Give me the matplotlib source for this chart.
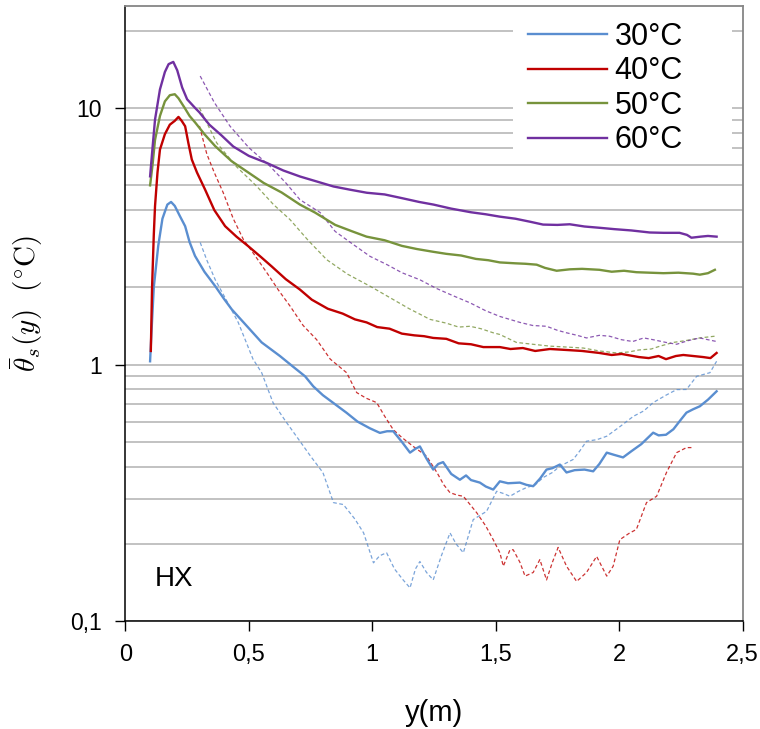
import numpy as np
import matplotlib
matplotlib.use("Agg")
import matplotlib.pyplot as plt
from matplotlib.ticker import FixedLocator, FuncFormatter, NullFormatter
from matplotlib.patches import Rectangle

plt.rcParams['font.family'] = ['Liberation Sans', 'DejaVu Sans']
plt.rcParams['mathtext.fontset'] = 'cm'

# solid curves (x in m, value in degC)
x30 = [0.100, 0.105, 0.115, 0.133, 0.150, 0.170, 0.185, 0.200, 0.220, 0.242, 0.260, 0.282, 0.320, 0.364,
       0.400, 0.431, 0.490, 0.552, 0.626, 0.680, 0.728, 0.761, 0.800, 0.850, 0.896, 0.940, 0.990, 1.031,
       1.060, 1.085, 1.120, 1.153, 1.175, 1.193, 1.220, 1.247, 1.267, 1.287, 1.320, 1.355, 1.380, 1.400,
       1.436, 1.460, 1.490, 1.517, 1.550, 1.598, 1.625, 1.652, 1.680, 1.706, 1.730, 1.760, 1.787, 1.820,
       1.860, 1.895, 1.920, 1.950, 1.980, 2.016, 2.050, 2.090, 2.138, 2.160, 2.190, 2.220, 2.250, 2.273,
       2.300, 2.327, 2.360, 2.395]
v30 = [1.03, 1.3, 2.0, 2.9, 3.7, 4.2, 4.3, 4.15, 3.8, 3.46, 3.0, 2.65, 2.3, 2.02,
       1.8, 1.64, 1.42, 1.22, 1.08, 0.98, 0.90, 0.823, 0.76, 0.70, 0.649, 0.60, 0.565, 0.542,
       0.55, 0.55, 0.50, 0.454, 0.47, 0.48, 0.43, 0.39, 0.41, 0.417, 0.375, 0.356, 0.37, 0.355,
       0.347, 0.335, 0.326, 0.351, 0.345, 0.347, 0.34, 0.336, 0.36, 0.39, 0.395, 0.408, 0.38, 0.388,
       0.39, 0.384, 0.41, 0.454, 0.445, 0.435, 0.46, 0.49, 0.543, 0.53, 0.533, 0.56, 0.61, 0.65,
       0.67, 0.688, 0.73, 0.787]

x40 = [0.103, 0.108, 0.115, 0.120, 0.130, 0.140, 0.160, 0.180, 0.200, 0.215, 0.228, 0.242, 0.255, 0.269,
       0.290, 0.323, 0.360, 0.404, 0.450, 0.498, 0.550, 0.593, 0.650, 0.707, 0.755, 0.820, 0.880, 0.930,
       0.977, 1.020, 1.070, 1.120, 1.170, 1.210, 1.247, 1.300, 1.350, 1.400, 1.450, 1.517, 1.560, 1.610,
       1.660, 1.720, 1.787, 1.850, 1.920, 1.970, 2.010, 2.080, 2.120, 2.160, 2.190, 2.230, 2.260, 2.300,
       2.340, 2.370, 2.395]
v40 = [1.13, 2.0, 3.2, 4.14, 5.6, 6.88, 7.9, 8.6, 8.9, 9.22, 8.9, 8.48, 7.3, 6.29,
       5.6, 4.8, 4.0, 3.46, 3.15, 2.89, 2.62, 2.41, 2.15, 1.96, 1.79, 1.65, 1.58, 1.50,
       1.46, 1.40, 1.38, 1.32, 1.30, 1.29, 1.27, 1.26, 1.21, 1.20, 1.17, 1.17, 1.15, 1.16,
       1.13, 1.15, 1.14, 1.13, 1.11, 1.09, 1.10, 1.07, 1.06, 1.08, 1.05, 1.08, 1.09, 1.08,
       1.07, 1.06, 1.11]

x50 = [0.100, 0.110, 0.120, 0.140, 0.160, 0.180, 0.200, 0.215, 0.240, 0.260, 0.283, 0.320, 0.364, 0.430,
       0.498, 0.560, 0.633, 0.707, 0.768, 0.850, 0.920, 0.977, 1.050, 1.120, 1.180, 1.247, 1.300, 1.360,
       1.420, 1.470, 1.517, 1.580, 1.620, 1.666, 1.700, 1.747, 1.800, 1.850, 1.920, 1.970, 2.020, 2.070,
       2.124, 2.180, 2.240, 2.300, 2.327, 2.360, 2.388]
v50 = [4.99, 6.0, 7.5, 9.3, 10.6, 11.2, 11.3, 10.9, 10.0, 9.3, 8.76, 7.9, 7.09, 6.2,
       5.6, 5.1, 4.68, 4.2, 3.91, 3.5, 3.3, 3.15, 3.05, 2.9, 2.82, 2.75, 2.70, 2.66,
       2.58, 2.55, 2.5, 2.48, 2.47, 2.45, 2.38, 2.32, 2.35, 2.36, 2.34, 2.30, 2.32, 2.29,
       2.28, 2.27, 2.28, 2.26, 2.24, 2.27, 2.34]

x60 = [0.100, 0.110, 0.120, 0.140, 0.160, 0.175, 0.194, 0.210, 0.230, 0.250, 0.282, 0.300, 0.340, 0.390,
       0.437, 0.500, 0.573, 0.640, 0.708, 0.780, 0.843, 0.910, 0.978, 1.050, 1.120, 1.190, 1.248, 1.320,
       1.400, 1.460, 1.516, 1.580, 1.640, 1.692, 1.750, 1.800, 1.860, 1.922, 1.980, 2.050, 2.124, 2.180,
       2.245, 2.275, 2.293, 2.330, 2.360, 2.395]
v60 = [5.41, 7.0, 9.0, 11.8, 13.8, 14.8, 15.1, 14.0, 12.0, 10.8, 10.0, 9.6, 8.6, 7.8,
       7.07, 6.5, 6.1, 5.7, 5.4, 5.15, 4.94, 4.8, 4.67, 4.6, 4.45, 4.3, 4.2, 4.05,
       3.92, 3.85, 3.77, 3.70, 3.60, 3.51, 3.50, 3.52, 3.45, 3.41, 3.37, 3.33, 3.27, 3.26,
       3.26, 3.2, 3.12, 3.15, 3.17, 3.15]

# dashed curves
xd30 = [0.303, 0.330, 0.364, 0.400, 0.457, 0.517, 0.552, 0.598, 0.650, 0.707, 0.750, 0.800, 0.843, 0.883,
        0.930, 0.965, 1.005, 1.030, 1.058, 1.090, 1.125, 1.153, 1.175, 1.193, 1.220, 1.247, 1.280, 1.315,
        1.340, 1.369, 1.409, 1.440, 1.463, 1.504, 1.530, 1.558, 1.590, 1.625, 1.660, 1.692, 1.730, 1.760,
        1.814, 1.840, 1.868, 1.910, 1.950, 2.000, 2.058, 2.100, 2.138, 2.190, 2.233, 2.273, 2.314, 2.368,
        2.395]
vd30 = [2.99, 2.55, 2.14, 1.85, 1.46, 1.05, 0.93, 0.711, 0.60, 0.503, 0.44, 0.38, 0.29, 0.285,
        0.25, 0.221, 0.169, 0.18, 0.185, 0.16, 0.145, 0.135, 0.16, 0.171, 0.155, 0.145, 0.18, 0.221,
        0.20, 0.185, 0.249, 0.26, 0.268, 0.321, 0.315, 0.307, 0.32, 0.332, 0.34, 0.363, 0.38, 0.402,
        0.427, 0.46, 0.503, 0.51, 0.526, 0.57, 0.629, 0.66, 0.711, 0.76, 0.799, 0.80, 0.90, 0.93,
        1.03]

xd40 = [0.300, 0.330, 0.360, 0.396, 0.437, 0.478, 0.520, 0.573, 0.620, 0.667, 0.720, 0.775, 0.830, 0.896,
        0.937, 0.975, 1.018, 1.050, 1.085, 1.120, 1.166, 1.220, 1.262, 1.290, 1.315, 1.345, 1.369, 1.423,
        1.460, 1.490, 1.517, 1.531, 1.558, 1.571, 1.598, 1.619, 1.652, 1.679, 1.706, 1.730, 1.753, 1.787,
        1.828, 1.868, 1.909, 1.950, 1.976, 2.003, 2.040, 2.070, 2.111, 2.152, 2.192, 2.233, 2.273, 2.293]
vd40 = [8.5, 6.6, 5.6, 4.68, 3.7, 3.07, 2.7, 2.28, 1.95, 1.69, 1.42, 1.25, 1.05, 0.93,
        0.778, 0.74, 0.711, 0.63, 0.558, 0.52, 0.48, 0.44, 0.38, 0.34, 0.317, 0.31, 0.307, 0.265,
        0.235, 0.208, 0.185, 0.164, 0.19, 0.19, 0.17, 0.150, 0.155, 0.174, 0.145, 0.17, 0.194, 0.164,
        0.143, 0.155, 0.179, 0.15, 0.164, 0.208, 0.22, 0.228, 0.29, 0.307, 0.38, 0.454, 0.475, 0.475]

xd50 = [0.300, 0.370, 0.450, 0.532, 0.600, 0.667, 0.740, 0.816, 0.900, 0.991, 1.060, 1.150, 1.234, 1.300,
        1.350, 1.396, 1.440, 1.490, 1.517, 1.584, 1.650, 1.720, 1.790, 1.855, 1.920, 1.990, 2.040, 2.080,
        2.130, 2.166, 2.220, 2.270, 2.327, 2.388]
vd50 = [10.0, 7.3, 5.9, 4.95, 4.2, 3.67, 3.05, 2.56, 2.25, 2.02, 1.85, 1.65, 1.5, 1.45,
        1.40, 1.41, 1.38, 1.33, 1.31, 1.22, 1.20, 1.18, 1.17, 1.16, 1.13, 1.11, 1.12, 1.14,
        1.15, 1.18, 1.22, 1.24, 1.27, 1.29]

xd60 = [0.303, 0.360, 0.424, 0.500, 0.586, 0.650, 0.707, 0.789, 0.850, 0.920, 0.991, 1.060, 1.120, 1.193,
        1.260, 1.330, 1.396, 1.460, 1.517, 1.598, 1.650, 1.706, 1.750, 1.787, 1.830, 1.868, 1.920, 1.961,
        2.010, 2.055, 2.100, 2.138, 2.190, 2.233, 2.280, 2.327, 2.360, 2.395]
vd60 = [13.3, 10.5, 8.48, 7.0, 5.92, 5.1, 4.39, 3.91, 3.3, 2.95, 2.64, 2.45, 2.28, 2.14,
        1.98, 1.85, 1.74, 1.62, 1.54, 1.46, 1.42, 1.41, 1.36, 1.33, 1.30, 1.27, 1.30, 1.29,
        1.25, 1.23, 1.27, 1.25, 1.22, 1.2, 1.24, 1.27, 1.25, 1.23]

labels = ['30°C', '40°C', '50°C', '60°C']
colors = ['#5a8ed0', '#c00000', '#77933c', '#7030a0']
xticks = [0, 0.5, 1, 1.5, 2, 2.5]

fig = plt.figure(figsize=(7.6, 7.29), dpi=100)
ax = fig.add_axes([0.165, 0.1477, 0.812, 0.8445])

solid = [(x30, v30), (x40, v40), (x50, v50), (x60, v60)]
dashed = [(xd30, vd30), (xd40, vd40), (xd50, vd50), (xd60, vd60)]
for (xs, vs), c, lab in zip(solid, colors, labels):
    ax.plot(xs, vs, color=c, lw=1.7, label=lab, zorder=3)
for (xs, vs), c in zip(dashed, colors):
    ax.plot(xs, vs, color=c, lw=0.9, ls=(0, (3, 2)), alpha=0.8, zorder=2)

ax.set_yscale('log')
ax.set_ylim(0.1, 25)
ax.set_xlim(0, 2.5)

ax.xaxis.set_major_locator(FixedLocator(xticks))
ax.xaxis.set_major_formatter(FuncFormatter(lambda v, p: ('%g' % v).replace('.', ',')))
ax.yaxis.set_major_locator(FixedLocator([0.1, 1, 10]))
ax.yaxis.set_major_formatter(FuncFormatter(lambda v, p: ('%g' % v).replace('.', ',')))
minor = [m * d for d in (0.1, 1, 10) for m in range(2, 10)]
ax.yaxis.set_minor_locator(FixedLocator(minor))
ax.yaxis.set_minor_formatter(NullFormatter())
ax.tick_params(axis='y', which='minor', length=0)
ax.tick_params(axis='y', which='major', length=7, width=1, pad=10, labelsize=16.5)
ax.tick_params(axis='x', which='major', length=7, width=1, pad=9, labelsize=17)

ax.grid(True, axis='y', which='both', color='#bdbdbd', lw=1.3, zorder=0)
ax.set_axisbelow(True)
for s in ['left', 'bottom']:
    ax.spines[s].set_color('black')
    ax.spines[s].set_linewidth(1.1)
for s in ['top', 'right']:
    ax.spines[s].set_color('#868686')
    ax.spines[s].set_linewidth(1.3)

ax.set_xlabel('y(m)', fontsize=21, labelpad=24)
fig.text(27 / 760, 1 - 304 / 729, r'$\bar{\theta}_s(y)\ \ (^{\circ}\mathrm{C})$',
         rotation=90, ha='center', va='center', fontsize=21)

ax.text(0.048, 0.057, 'HX', transform=ax.transAxes, fontsize=20, ha='left', va='baseline')

# white legend box hiding the gridlines behind it
ax.add_patch(Rectangle((0.628, 0.757), 0.355, 0.228, transform=ax.transAxes,
                       facecolor='white', edgecolor='none', zorder=1))
leg = ax.legend(loc='upper left', bbox_to_anchor=(0.652, 0.974), fontsize=22, frameon=False,
                handlelength=2.58, handletextpad=0.26, labelspacing=0.15, borderaxespad=0,
                borderpad=0)
for h in leg.get_lines():
    h.set_linewidth(1.7)

fig.savefig('out.png', dpi=100)
